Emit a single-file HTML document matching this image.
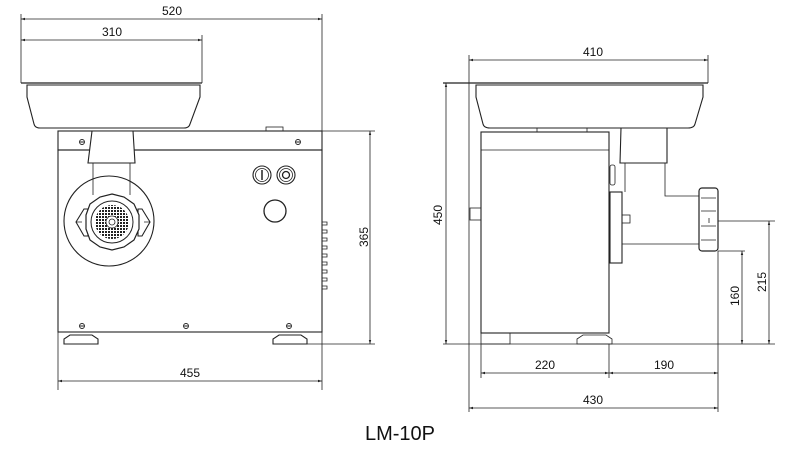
<!DOCTYPE html>
<html><head><style>html,body{margin:0;padding:0;background:#fff}svg{display:block}text{font-family:"Liberation Sans",sans-serif;font-size:12px;fill:#111}</style></head>
<body>
<svg width="800" height="460" viewBox="0 0 800 460" xmlns="http://www.w3.org/2000/svg">
<defs>
<marker id="a" viewBox="0 0 10 10" refX="10" refY="5" markerWidth="8" markerHeight="5" orient="auto-start-reverse"><path d="M0,2 L10,5 L0,8z" fill="#222"/></marker>
<pattern id="dots" width="3" height="3" patternUnits="userSpaceOnUse"><rect width="2" height="2" fill="#222"/></pattern>
</defs>
<g stroke="#222" stroke-width="0.8" fill="none">
<line x1="21" y1="14" x2="21" y2="83"/>
<line x1="322" y1="14" x2="322" y2="390"/>
<line x1="202" y1="35" x2="202" y2="83"/>
<line x1="21" y1="19" x2="322" y2="19" marker-start="url(#a)" marker-end="url(#a)"/>
<line x1="21" y1="40" x2="202" y2="40" marker-start="url(#a)" marker-end="url(#a)"/>
<line x1="21" y1="83" x2="202" y2="83" stroke-width="1.2"/>
<path d="M27,85 L200,85 L200,97 L190,124 Q189,128 184,128 L40,128 Q35,128 34,124 L27,97 Z" stroke-width="1.1"/>
<rect x="58" y="131" width="264" height="19" stroke-width="1.1"/>
<rect x="266" y="127" width="17" height="4"/>
<rect x="58" y="150" width="264" height="182" stroke-width="1.1"/>
<circle cx="109" cy="221" r="45" fill="#fff" stroke-width="1.1"/>
<path d="M92,131 L133,131 L135,163 L88,163 Z" fill="#fff" stroke-width="1.1"/>
<path d="M93,163 L93,195 M130,163 L130,195"/>
<path d="M76,222 L84,209 L88,209 L88,236 L84,236 Z M150,222 L142,209 L138,209 L138,236 L142,236 Z" fill="#fff" stroke-width="1.1"/>
<path d="M76,222 L82,222 M150,222 L144,222" />
<polygon points="112,194 124,197 134,204 139,215 139,229 134,240 124,247 112,250 100,247 90,240 86,229 86,215 90,204 100,197" fill="#fff" stroke-width="1.2"/>
<circle cx="112" cy="222" r="21" stroke-width="1"/>
<circle cx="112" cy="222" r="17" fill="url(#dots)" stroke="none"/>
<circle cx="112" cy="222" r="6" fill="#fff"/>
<circle cx="112" cy="222" r="3"/>
<circle cx="262" cy="175" r="9" stroke-width="1.1"/><circle cx="262" cy="175" r="6.5"/><line x1="262" y1="170" x2="262" y2="180" stroke-width="1.5"/>
<circle cx="286" cy="175" r="9" stroke-width="1.1"/><circle cx="286" cy="175" r="6.5"/><circle cx="286" cy="175" r="3.5" stroke-width="1.3"/>
<circle cx="275" cy="211" r="11" stroke-width="1.3"/>
<path d="M322,222 h5 v3 h-5 M322,230 h5 v3 h-5 M322,238 h5 v3 h-5 M322,246 h5 v3 h-5 M322,254 h5 v3 h-5 M322,262 h5 v3 h-5 M322,270 h5 v3 h-5 M322,278 h5 v3 h-5 M322,286 h5 v3 h-5"/>
<g stroke-width="0.9"><circle cx="82" cy="142" r="2.5"/><circle cx="298" cy="142" r="2.5"/><circle cx="82" cy="326" r="2.5"/><circle cx="186" cy="326" r="2.5"/><circle cx="289" cy="326" r="2.5"/>
<path d="M80,142h4M296,142h4M80,326h4M184,326h4M287,326h4"/></g>
<path d="M64,344 L64,339 L70,335 L92,335 L98,339 L98,344 Z M273,344 L273,339 L279,335 L301,335 L307,339 L307,344 Z" stroke-width="1.1"/>
<line x1="58" y1="332" x2="58" y2="390"/>
<line x1="322" y1="131" x2="375" y2="131"/>
<line x1="307" y1="344" x2="375" y2="344"/>
<line x1="370" y1="131" x2="370" y2="344" marker-start="url(#a)" marker-end="url(#a)"/>
<line x1="58" y1="381" x2="322" y2="381" marker-start="url(#a)" marker-end="url(#a)"/>
<line x1="469" y1="55" x2="469" y2="412"/>
<line x1="708" y1="55" x2="708" y2="83"/>
<line x1="469" y1="60" x2="708" y2="60" marker-start="url(#a)" marker-end="url(#a)"/>
<line x1="443" y1="83" x2="708" y2="83" stroke-width="1.2"/>
<path d="M476,85 L703,85 L703,97 L695,124 Q694,128 688,128 L490,128 Q484,128 483,124 L476,97 Z" stroke-width="1.1"/>
<line x1="446" y1="83" x2="446" y2="344" marker-start="url(#a)" marker-end="url(#a)"/>
<rect x="537" y="128" width="50" height="4"/>
<rect x="481" y="132" width="128" height="201" stroke-width="1.1"/>
<line x1="481" y1="150" x2="609" y2="150"/>
<rect x="470" y="208" width="11" height="12"/>
<path d="M621,128 L667,128 L667,163 L620,163 Z" stroke-width="1.1"/>
<path d="M625,163 L625,192 M665,163 L665,196 L699,196 M622,244 L699,244"/>
<rect x="610" y="165" width="5" height="20" rx="2"/>
<rect x="610" y="192" width="12" height="71" stroke-width="1.1"/>
<rect x="622" y="215" width="8" height="8"/>
<rect x="699" y="188" width="19" height="63" rx="3" stroke-width="1.2"/>
<path d="M701,198h15M701,211h15M701,226h15M701,240h15M709,218v5"/>
<rect x="481" y="333" width="29" height="11"/>
<path d="M577,344 L577,339 L583,335 L606,335 L612,339 L612,344 Z"/>
<line x1="443" y1="344" x2="775" y2="344"/>
<line x1="718" y1="221" x2="775" y2="221"/>
<line x1="718" y1="251" x2="745" y2="251"/>
<line x1="742" y1="251" x2="742" y2="344" marker-start="url(#a)" marker-end="url(#a)"/>
<line x1="769" y1="221" x2="769" y2="344" marker-start="url(#a)" marker-end="url(#a)"/>
<line x1="481" y1="344" x2="481" y2="378"/>
<line x1="609" y1="344" x2="609" y2="378"/>
<line x1="718" y1="251" x2="718" y2="412"/>
<line x1="481" y1="373" x2="609" y2="373" marker-start="url(#a)" marker-end="url(#a)"/>
<line x1="609" y1="373" x2="718" y2="373" marker-start="url(#a)" marker-end="url(#a)"/>
<line x1="469" y1="408" x2="718" y2="408" marker-start="url(#a)" marker-end="url(#a)"/>
</g>
<text x="172" y="15" text-anchor="middle">520</text>
<text x="112" y="36" text-anchor="middle">310</text>
<text x="190" y="377" text-anchor="middle">455</text>
<text transform="translate(368,237) rotate(-90)" text-anchor="middle">365</text>
<text x="593" y="56" text-anchor="middle">410</text>
<text transform="translate(442,215) rotate(-90)" text-anchor="middle">450</text>
<text transform="translate(739,296) rotate(-90)" text-anchor="middle">160</text>
<text transform="translate(766,282) rotate(-90)" text-anchor="middle">215</text>
<text x="545" y="369" text-anchor="middle">220</text>
<text x="664" y="369" text-anchor="middle">190</text>
<text x="593" y="404" text-anchor="middle">430</text>
<text x="400" y="440" text-anchor="middle" style="font-size:20px">LM-10P</text>
</svg>
</body></html>
